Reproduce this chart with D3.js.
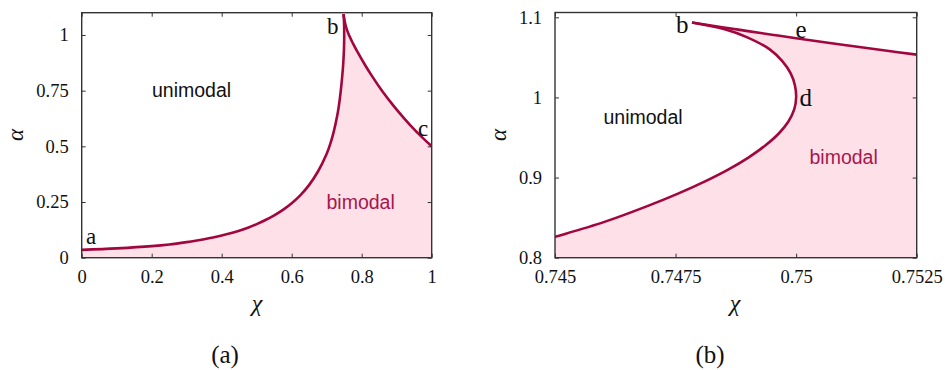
<!DOCTYPE html>
<html lang="en">
<head>
<meta charset="UTF-8">
<title>Unimodal / bimodal regions</title>
<script src="https://d3js.org/d3.v7.min.js"></script>
<style>
  body { margin: 0; background: #fff; }
  .tick text { font-family: 'Liberation Serif', serif; font-size: 18.5px; fill: #111; }
  .tick line { stroke: #333; stroke-width: 1; }
</style>
</head>
<body>
<svg width="945" height="370"></svg>
<script>
// lower branch: a -> d -> b
const lowerChi = [0, 0.1, 0.2, 0.25, 0.3, 0.325, 0.35, 0.375, 0.4, 0.425, 0.45, 0.475, 0.5, 0.525, 0.55, 0.575,
  0.6, 0.625, 0.65, 0.675, 0.7, 0.71, 0.72, 0.73, 0.735, 0.74, 0.743,
  0.745, 0.74604, 0.74694, 0.74755, 0.7481, 0.74859, 0.74901, 0.74936, 0.74964, 0.74984, 0.74996, 0.75,
  0.749975, 0.749887, 0.749717, 0.749453, 0.748987, 0.748519, 0.74784];
const lowerAlpha = [0.035, 0.042, 0.052, 0.0595, 0.07, 0.076, 0.0828, 0.0905, 0.0993, 0.1093, 0.121, 0.1348, 0.1508, 0.1693, 0.1905, 0.215,
  0.2445, 0.2808, 0.327, 0.387, 0.467, 0.51, 0.565, 0.637, 0.6845, 0.747, 0.792,
  0.826, 0.845, 0.865, 0.88, 0.895, 0.91, 0.925, 0.94, 0.955, 0.97, 0.985, 1.0,
  1.015, 1.03, 1.045, 1.06, 1.075, 1.085, 1.0935];
// upper branch: b -> e -> c
const upperChi = [0.74784, 0.7485, 0.749, 0.7495, 0.75, 0.751, 0.752, 0.7525,
  0.755, 0.76, 0.765, 0.775, 0.79, 0.81, 0.83, 0.86, 0.89, 0.92, 0.95, 0.975, 1.0];
const upperAlpha = [1.0935, 1.0873, 1.0828, 1.0783, 1.0738, 1.0655, 1.0573, 1.0534,
  1.038, 1.014, 0.995, 0.962, 0.918, 0.864, 0.814, 0.745, 0.684, 0.628, 0.576, 0.537, 0.5];

const ticksAX = [0, 0.2, 0.4, 0.6, 0.8, 1];
const ticksAY = [0, 0.25, 0.5, 0.75, 1];
const ticksBX = [0.745, 0.7475, 0.75, 0.7525];
const ticksBY = [0.8, 0.9, 1, 1.1];

const lineColor = '#a2063e';
const fillColor = '#fde0e8';

const lower = lowerChi.map((c, i) => [c, lowerAlpha[i]]);
const upper = upperChi.map((c, i) => [c, upperAlpha[i]]);

const svg = d3.select('svg');

function panel(cfg) {
  const x = d3.scaleLinear().domain(cfg.xDom).range(cfg.xRange);
  const y = d3.scaleLinear().domain(cfg.yDom).range(cfg.yRange);
  const g = svg.append('g');

  g.append('clipPath').attr('id', cfg.id)
    .append('rect')
    .attr('x', cfg.xRange[0]).attr('y', cfg.yRange[1])
    .attr('width', cfg.xRange[1] - cfg.xRange[0])
    .attr('height', cfg.yRange[0] - cfg.yRange[1]);

  const lineLow = d3.line()
    .x(d => x(d[0])).y(d => y(d[1]))
    .curve(d3.curveCatmullRom.alpha(0.5));
  const lineUp = d3.line()
    .x(d => x(d[0])).y(d => y(d[1]))
    .curve(d3.curveMonotoneX);

  const body = g.append('g').attr('clip-path', `url(#${cfg.id})`);

  // bimodal region: under the whole curve
  const fillPath = lineLow(lower) + 'L' + lineUp(upper).slice(1) +
    `L${x(1)},${y(0)}L${x(0)},${y(0)}Z`;
  body.append('path')
    .attr('d', fillPath)
    .attr('fill', fillColor)
    .attr('stroke', 'none');

  body.append('path').datum(lower)
    .attr('d', lineLow).attr('fill', 'none')
    .attr('stroke', lineColor).attr('stroke-width', 2.6)
    .attr('stroke-linejoin', 'round');
  body.append('path').datum(upper)
    .attr('d', lineUp).attr('fill', 'none')
    .attr('stroke', lineColor).attr('stroke-width', 2.6)
    .attr('stroke-linejoin', 'round');

  // axes, ticks pointing inwards, mirrored
  const fmt = d => String(d);
  g.append('g').attr('transform', `translate(0,${cfg.yRange[0]})`)
    .call(d3.axisBottom(x).tickValues(cfg.xTicks).tickFormat(fmt).tickSize(-4).tickPadding(12))
    .call(a => a.select('.domain').remove());
  g.append('g').attr('transform', `translate(0,${cfg.yRange[1]})`)
    .call(d3.axisTop(x).tickValues(cfg.xTicks).tickFormat('').tickSize(-4))
    .call(a => a.select('.domain').remove());
  g.append('g').attr('transform', `translate(${cfg.xRange[0]},0)`)
    .call(d3.axisLeft(y).tickValues(cfg.yTicks).tickFormat(fmt).tickSize(-4).tickPadding(13))
    .call(a => a.select('.domain').remove());
  g.append('g').attr('transform', `translate(${cfg.xRange[1]},0)`)
    .call(d3.axisRight(y).tickValues(cfg.yTicks).tickFormat('').tickSize(-4))
    .call(a => a.select('.domain').remove());
  g.selectAll('.tick text').attr('font-family', null).attr('font-size', null);

  g.append('rect')
    .attr('x', cfg.xRange[0]).attr('y', cfg.yRange[1])
    .attr('width', cfg.xRange[1] - cfg.xRange[0])
    .attr('height', cfg.yRange[0] - cfg.yRange[1])
    .attr('fill', 'none').attr('stroke', '#333').attr('stroke-width', 1.4);

  const serif = "'Liberation Serif', serif";
  const sans = "'Liberation Sans', Arial, sans-serif";

  g.append('text')
    .attr('x', cfg.unimodal[0]).attr('y', cfg.unimodal[1])
    .attr('font-family', sans).attr('font-size', 19.5).attr('fill', '#111')
    .text('unimodal');
  g.append('text')
    .attr('x', cfg.bimodal[0]).attr('y', cfg.bimodal[1])
    .attr('font-family', sans).attr('font-size', 19.5).attr('fill', '#a8164c')
    .text('bimodal');

  cfg.points.forEach(p => {
    g.append('text')
      .attr('x', p[1]).attr('y', p[2])
      .attr('font-family', serif).attr('font-size', p[3]).attr('fill', '#111')
      .text(p[0]);
  });

  g.append('text')
    .attr('x', cfg.chiX).attr('y', 311)
    .attr('text-anchor', 'middle')
    .attr('font-family', serif).attr('font-style', 'italic')
    .attr('font-size', 24).attr('fill', '#111')
    .text('χ');
  g.append('text')
    .attr('transform', `translate(${cfg.alphaX},135) rotate(-90)`)
    .attr('text-anchor', 'middle').attr('dominant-baseline', 'central')
    .attr('font-family', serif).attr('font-style', 'italic')
    .attr('font-size', 23).attr('fill', '#111')
    .text('α');
  g.append('text')
    .attr('x', cfg.capX).attr('y', 363)
    .attr('text-anchor', 'middle')
    .attr('font-family', serif).attr('font-size', 25).attr('fill', '#111')
    .text(cfg.caption);
}

panel({
  id: 'clipA',
  xDom: [0, 1], xRange: [81.7, 431.7],
  yDom: [0, 1.1], yRange: [257.7, 12.7],
  xTicks: ticksAX, yTicks: ticksAY,
  unimodal: [152, 96.5], bimodal: [326.5, 208.5],
  points: [['a', 86, 243.5, 23], ['b', 327, 33.5, 23], ['c', 418, 136, 23]],
  chiX: 257, alphaX: 15, capX: 225, caption: '(a)'
});

panel({
  id: 'clipB',
  xDom: [0.745, 0.7525], xRange: [555, 916.7],
  yDom: [0.8, 1.106], yRange: [257.7, 12.5],
  xTicks: ticksBX, yTicks: ticksBY,
  unimodal: [603.5, 123.5], bimodal: [809.5, 163.5],
  points: [['b', 676, 33, 25], ['e', 795.5, 37.5, 25], ['d', 799.5, 106, 25]],
  chiX: 735, alphaX: 498, capX: 710, caption: '(b)'
});
</script>
</body>
</html>
